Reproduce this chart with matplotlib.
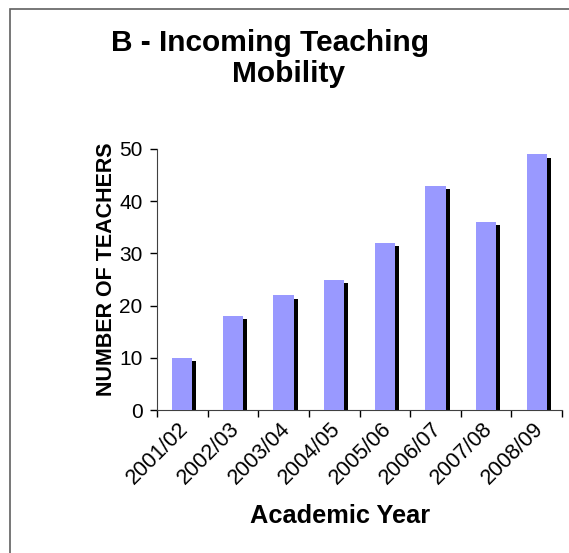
import numpy as np
import matplotlib.pyplot as plt
from matplotlib.patches import Rectangle
from matplotlib.transforms import ScaledTranslation

years = ["2001/02", "2002/03", "2003/04", "2004/05",
         "2005/06", "2006/07", "2007/08", "2008/09"]
teachers = [10, 18, 22, 25, 32, 43, 36, 49]

plt.rcParams["font.family"] = ["Liberation Sans", "DejaVu Sans"]

fig = plt.figure(figsize=(5.69, 5.53), dpi=100)
W, H = 569, 553

# outer frame (left and top edges visible)
fig.patches.append(Rectangle((10 / W, -0.1), 1.2, (H - 9) / H + 0.1,
                             transform=fig.transFigure, fill=False,
                             edgecolor="#606060", linewidth=1.2))

ax = fig.add_axes([157 / W, (H - 410) / H, 405 / W, 261 / H])

x = np.arange(len(years))
barW = 0.40
# drop shadow
ax.bar(x + 0.08, np.array(teachers) - 0.65, width=barW, color="black", zorder=2)
ax.bar(x, teachers, width=barW, color="#9999FF", zorder=3)

ax.set_xlim(-0.5, len(years) - 0.5)
ax.set_ylim(0, 50)
ax.set_yticks(np.arange(0, 51, 10))
ax.tick_params(axis="y", labelsize=15, length=5, width=1, direction="out", pad=5.5)

ax.set_xticks(np.arange(-0.5, len(years), 1))
ax.set_xticklabels([])
ax.tick_params(axis="x", which="major", length=5, width=1, direction="out")
ax.set_xticks(x, minor=True)
ax.set_xticklabels(years, minor=True, rotation=45, ha="right",
                   rotation_mode="anchor", fontsize=15.5)
ax.tick_params(axis="x", which="minor", length=0, pad=6)
shift = ScaledTranslation(-4 / 100, 0, fig.dpi_scale_trans)
for lab in ax.get_xticklabels(minor=True):
    lab.set_transform(lab.get_transform() + shift)

for s in ["top", "right"]:
    ax.spines[s].set_visible(False)
for s in ["left", "bottom"]:
    ax.spines[s].set_color("#404040")

ax.set_ylabel("NUMBER OF TEACHERS", fontsize=15.5, fontweight="bold")
ax.yaxis.set_label_coords(-0.10, 0.54)
fig.text(340 / W, 1 - 523 / H, "Academic Year", fontsize=18.3,
         fontweight="bold", ha="center", va="baseline")

fig.text(270 / W, 1 - 51 / H, "B - Incoming Teaching", fontsize=21.5,
         fontweight="bold", ha="center", va="baseline")
fig.text(289 / W, 1 - 82 / H, "Mobility", fontsize=21.5,
         fontweight="bold", ha="center", va="baseline")

plt.savefig("out.png", dpi=100)
